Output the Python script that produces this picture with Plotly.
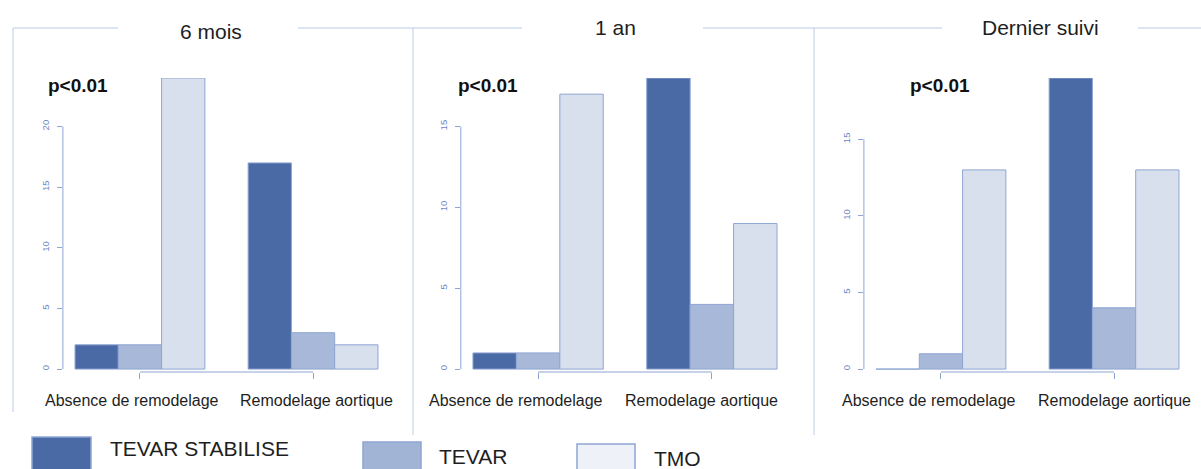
import plotly.graph_objects as go

# ---------------- data ----------------
categories = ["Absence de remodelage", "Remodelage aortique"]
series_names = ["TEVAR STABILISE", "TEVAR", "TMO"]
panel_titles = ["6 mois", "1 an", "Dernier suivi"]
p_labels = ["p<0.01", "p<0.01", "p<0.01"]

# values per panel: [Absence de remodelage, Remodelage aortique]
stab_6mois = [2, 17]
tevar_6mois = [2, 3]
tmo_6mois = [24, 2]

stab_1an = [1, 18]
tevar_1an = [1, 4]
tmo_1an = [17, 9]

stab_dernier = [0, 19]
tevar_dernier = [1, 4]
tmo_dernier = [13, 13]

panels = [
    [stab_6mois, tevar_6mois, tmo_6mois],
    [stab_1an, tevar_1an, tmo_1an],
    [stab_dernier, tevar_dernier, tmo_dernier],
]

# ---------------- style ----------------
W, H = 1201, 469
FONT = "Liberation Sans, Arial, Helvetica, sans-serif"
fill_colors = ["#4a6aa5", "#a8b8d8", "#d8e0ed"]
legend_fill = ["#4a6aa5", "#a2b4d6", "#eef1f8"]
edge = "#8ea5d3"
frame_col = "#bccbe8"
tick_col = "#6a87c4"


def px(x):
    return x / W


def py(y):
    return 1 - y / H


# panel plot regions in pixels (left, right)
panel_x = [(62.9, 390.1), (460.8, 789.2), (863.9, 1191.1)]
plot_top, plot_bottom = 78, 372
title_pos = [(211, 31), (615, 27), (1040, 27)]
p_pos = [(77.5, 85), (487.5, 85), (939.5, 85)]
cat_label_x = [(131.5, 316.5), (516, 701), (929, 1114.5)]
cat_label_y = 400

fig = go.Figure()
shapes = []
annotations = []
layout_axes = {}

for i, vals in enumerate(panels):
    n = "" if i == 0 else str(i + 1)
    xa, ya = "x" + n, "y" + n
    for s, name in enumerate(series_names):
        fig.add_trace(go.Bar(
            x=categories, y=vals[s], name=name,
            marker=dict(color=fill_colors[s], line=dict(color=edge, width=1)),
            xaxis=xa, yaxis=ya, showlegend=False, hoverinfo="x+y+name",
        ))
    ymax = max(max(v) for v in vals)
    tickvals = list(range(0, ymax + 1, 5))
    layout_axes["xaxis" + n] = dict(
        domain=[px(panel_x[i][0]), px(panel_x[i][1])], anchor=ya,
        type="category", range=[-0.445, 1.445], automargin=False,
        showgrid=False, zeroline=False, showline=False,
        ticks="outside", ticklen=6, tickcolor=edge, tickwidth=1,
        showticklabels=False,
    )
    layout_axes["yaxis" + n] = dict(
        domain=[py(plot_bottom), py(plot_top)], anchor=xa,
        range=[-0.01 * ymax, ymax], automargin=False,
        showgrid=False, zeroline=False, showline=False,
        tickvals=tickvals, ticks="outside", ticklen=5, tickcolor=edge,
        tickwidth=1, tickangle=-90,
        tickfont=dict(family=FONT, size=9.5, color=tick_col),
        ticklabelstandoff=4,
    )
    # y axis line from 0 to last tick
    shapes.append(dict(type="line", xref=xa + " domain", yref=ya,
                       x0=0, x1=0, y0=tickvals[0], y1=tickvals[-1],
                       line=dict(color=edge, width=1)))
    # x axis line between first and last category
    shapes.append(dict(type="line", xref=xa, yref=ya + " domain",
                       x0=categories[0], x1=categories[-1], y0=0, y1=0,
                       line=dict(color=edge, width=1)))
    # category labels (placed as in the original figure)
    for c, cat in enumerate(categories):
        annotations.append(dict(text=cat, x=px(cat_label_x[i][c]), y=py(cat_label_y),
                                xref="paper", yref="paper", showarrow=False,
                                xanchor="center", yanchor="middle",
                                font=dict(family=FONT, size=16, color="#1e1e1e")))
    annotations.append(dict(text=panel_titles[i], x=px(title_pos[i][0]),
                            y=py(title_pos[i][1]), xref="paper", yref="paper",
                            showarrow=False, xanchor="center", yanchor="middle",
                            font=dict(family=FONT, size=21, color="#1e1e1e")))
    annotations.append(dict(text="<b>" + p_labels[i] + "</b>", x=px(p_pos[i][0]),
                            y=py(p_pos[i][1]), xref="paper", yref="paper",
                            showarrow=False, xanchor="center", yanchor="middle",
                            font=dict(family=FONT, size=19, color="#111111")))

# decorative frames (pixel coordinates)
frame_segments = [
    (13, 28, 13, 412), (13, 28, 118, 28), (298, 28, 413, 28),
    (413, 28, 413, 435), (413, 28, 522, 28), (703, 28, 814, 28),
    (814, 28, 814, 435), (814, 28, 942, 28), (1138, 28, 1201, 28),
]
for x0, y0, x1, y1 in frame_segments:
    shapes.append(dict(type="line", xref="paper", yref="paper",
                       x0=px(x0), y0=py(y0), x1=px(x1), y1=py(y1),
                       line=dict(color=frame_col, width=1)))

# manual legend
legend_boxes = [(32, 437, 91), (363, 442, 421), (577, 444, 635)]
legend_text = [(108, 448), (437, 456), (652, 458)]
for s, name in enumerate(series_names):
    x0, y0, x1 = legend_boxes[s]
    shapes.append(dict(type="rect", xref="paper", yref="paper",
                       x0=px(x0), x1=px(x1), y0=py(y0), y1=py(H + 10),
                       fillcolor=legend_fill[s], line=dict(color=edge, width=1.5)))
    annotations.append(dict(text=name, x=px(legend_text[s][0]), y=py(legend_text[s][1]),
                            xref="paper", yref="paper", showarrow=False,
                            xanchor="left", yanchor="middle",
                            font=dict(family=FONT, size=21, color="#1e1e1e")))

fig.update_layout(
    width=W, height=H,
    margin=dict(l=0, r=0, t=0, b=0, pad=0, autoexpand=False),
    paper_bgcolor="white", plot_bgcolor="white",
    barmode="group", bargap=0.25, bargroupgap=0,
    shapes=shapes, annotations=annotations,
    showlegend=False,
    **layout_axes,
)

fig.write_html(
    "out.html",
    config={"displayModeBar": False},
    post_script="document.body.style.margin='0';document.body.style.overflow='hidden';",
)
